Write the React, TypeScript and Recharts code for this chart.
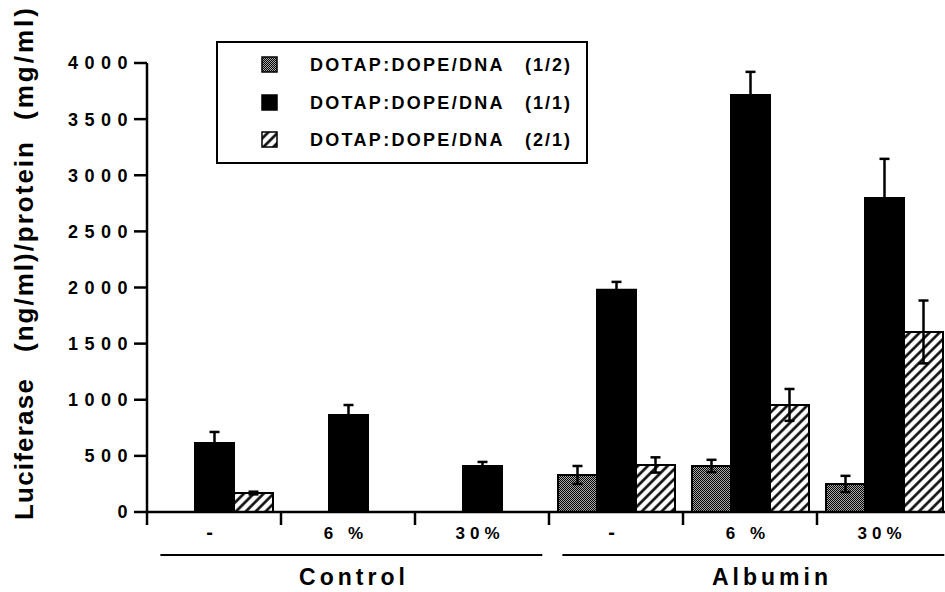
import { BarChart, Bar, XAxis, YAxis, ErrorBar, Legend } from "recharts";

const CATEGORIES = [
  "Control -",
  "Control 6%",
  "Control 30%",
  "Albumin -",
  "Albumin 6%",
  "Albumin 30%",
];
const TICK_LABELS = ["-", "6 %", "30%", "-", "6 %", "30%"];
const GROUPS = ["Control", "Albumin"];
const SERIES_NAME = "DOTAP:DOPE/DNA";
const RATIOS = ["(1/2)", "(1/1)", "(2/1)"];

const R12 = [null, null, null, 330, 410, 250];
const R12_ERR = [null, null, null, 80, 55, 72];
const R11 = [615, 865, 410, 1979, 3716, 2798];
const R11_ERR = [98, 88, 36, 71, 205, 348];
const R21 = [169, null, null, 419, 954, 1604];
const R21_ERR = [12, null, null, 68, 142, 280];

const Y_TICKS = [0, 500, 1000, 1500, 2000, 2500, 3000, 3500, 4000];

const data = CATEGORIES.map((cat, i) => ({
  cat,
  r12: R12[i],
  r12Err: R12_ERR[i],
  r11: R11[i],
  r11Err: R11_ERR[i],
  r21: R21[i],
  r21Err: R21_ERR[i],
}));

const W = 951;
const H = 592;
const LEFT = 147;
const TOP = 63;
const BOTTOM = 80;
const BAND = (W - LEFT) / CATEGORIES.length;
const FONT = "'Liberation Sans', Arial, Helvetica, sans-serif";
const FILLS = ["url(#checker)", "#000", "url(#hatch)"];
// the group names sit a little right of the middle category
const GROUP_SHIFT = [6, 22];

// category tick: label at the centre, tick marks on the category boundaries,
// and the group rule + name under the middle category of each group
function BottomTick(props: any) {
  const { x, y, index } = props;
  const isLast = index === CATEGORIES.length - 1;
  const inMiddle = index % 3 === 1;
  const group = Math.floor(index / 3);
  const label = TICK_LABELS[index];
  return (
    <g fontFamily={FONT} fontWeight={700} fill="#000">
      <line
        x1={x - BAND / 2}
        x2={x - BAND / 2}
        y1={y}
        y2={y + 13}
        stroke="#000"
        strokeWidth={2.5}
      />
      {isLast && (
        <line
          x1={x + BAND / 2}
          x2={x + BAND / 2}
          y1={y}
          y2={y + 13}
          stroke="#000"
          strokeWidth={2.5}
        />
      )}
      <text
        x={x - 2}
        y={y + 27}
        textAnchor="middle"
        fontSize={label === "-" ? 20 : 17}
        letterSpacing={5}
      >
        {label}
      </text>
      {inMiddle && (
        <>
          <line
            x1={x - BAND * 1.4}
            x2={x + BAND * 1.45}
            y1={y + 43}
            y2={y + 43}
            stroke="#000"
            strokeWidth={2}
          />
          <text
            x={x + GROUP_SHIFT[group]}
            y={y + 73}
            textAnchor="middle"
            fontSize={23}
            letterSpacing={4}
          >
            {GROUPS[group]}
          </text>
        </>
      )}
    </g>
  );
}

function LegendBox() {
  const rows = [23, 61, 98];
  return (
    <svg width={372} height={123} style={{ display: "block" }}>
      <rect x={1} y={1} width={370} height={121} fill="#fff" stroke="#000" strokeWidth={2} />
      {RATIOS.map((r, i) => (
        <g key={r} fontFamily={FONT} fontWeight={700} fontSize={18} fill="#000">
          <rect
            x={46}
            y={rows[i] - 7}
            width={15}
            height={15}
            fill={FILLS[i]}
            stroke="#000"
            strokeWidth={1.5}
          />
          <text x={94} y={rows[i] + 7} letterSpacing={2.3}>
            {SERIES_NAME}
          </text>
          <text x={309} y={rows[i] + 7} letterSpacing={2}>
            {r}
          </text>
        </g>
      ))}
    </svg>
  );
}

export default function App() {
  return (
    <div
      style={{
        position: "absolute",
        left: 0,
        top: 0,
        width: 945,
        height: 592,
        overflow: "hidden",
        background: "#fff",
      }}
    >
      <BarChart
        width={W}
        height={H}
        data={data}
        margin={{ top: TOP, right: 0, bottom: 0, left: 0 }}
        barSize={39}
        barGap={0}
      >
        <defs>
          <pattern id="checker" width={2} height={2} patternUnits="userSpaceOnUse">
            <rect width={2} height={2} fill="#aaa" />
            <rect width={1} height={1} fill="#000" />
            <rect x={1} y={1} width={1} height={1} fill="#000" />
          </pattern>
          <pattern
            id="hatch"
            width={7}
            height={7}
            patternUnits="userSpaceOnUse"
            patternTransform="rotate(45)"
          >
            <rect width={7} height={7} fill="#fff" />
            <line x1={3.5} y1={0} x2={3.5} y2={7} stroke="#000" strokeWidth={2.5} />
          </pattern>
        </defs>
        <text
          transform="translate(33, 520) rotate(-90)"
          fontFamily={FONT}
          fontWeight={700}
          fontSize={26}
          letterSpacing={1.2}
          fill="#000"
        >
          <tspan x={0}>Luciferase</tspan>
          <tspan x={168} letterSpacing={2}>(ng/ml)/protein</tspan>
          <tspan x={400} letterSpacing={3}>(mg/ml)</tspan>
        </text>
        <XAxis
          dataKey="cat"
          interval={0}
          height={BOTTOM}
          tickSize={0}
          tickMargin={0}
          tickLine={false}
          axisLine={{ stroke: "#000", strokeWidth: 2.5 }}
          tick={(p: any) => <BottomTick {...p} />}
        />
        <YAxis
          domain={[0, 4000]}
          ticks={Y_TICKS}
          interval={0}
          width={LEFT}
          tickSize={13}
          tickMargin={0}
          axisLine={{ stroke: "#000", strokeWidth: 2.5 }}
          tickLine={{ stroke: "#000", strokeWidth: 2.5 }}
          tick={{
            fill: "#000",
            fontSize: 18,
            fontWeight: 700,
            fontFamily: FONT,
            letterSpacing: 6.5,
          }}
        />
        <Legend
          layout="vertical"
          align="center"
          verticalAlign="middle"
          wrapperStyle={{ left: 216, top: 41, width: 372, height: 123 }}
          content={() => <LegendBox />}
        />
        <Bar
          dataKey="r12"
          name={`${SERIES_NAME} ${RATIOS[0]}`}
          fill={FILLS[0]}
          stroke="#000"
          strokeWidth={2}
          isAnimationActive={false}
        >
          <ErrorBar dataKey="r12Err" width={5} stroke="#000" strokeWidth={2.5} />
        </Bar>
        <Bar
          dataKey="r11"
          name={`${SERIES_NAME} ${RATIOS[1]}`}
          fill={FILLS[1]}
          stroke="#000"
          strokeWidth={2}
          isAnimationActive={false}
        >
          <ErrorBar dataKey="r11Err" width={5} stroke="#000" strokeWidth={2.5} />
        </Bar>
        <Bar
          dataKey="r21"
          name={`${SERIES_NAME} ${RATIOS[2]}`}
          fill={FILLS[2]}
          stroke="#000"
          strokeWidth={2}
          isAnimationActive={false}
        >
          <ErrorBar dataKey="r21Err" width={5} stroke="#000" strokeWidth={2.5} />
        </Bar>
      </BarChart>
    </div>
  );
}
